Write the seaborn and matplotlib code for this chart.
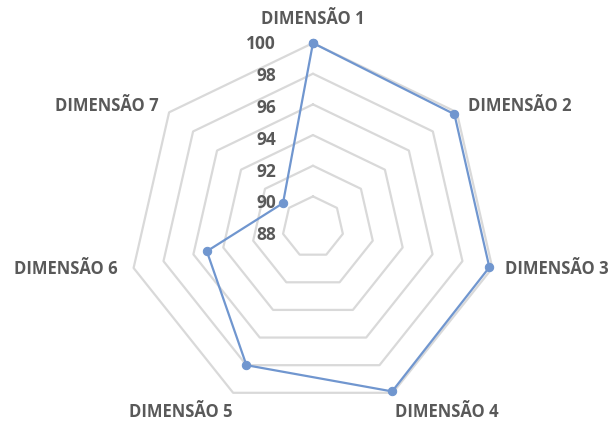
import matplotlib
matplotlib.use("Agg")
import matplotlib.pyplot as plt
import numpy as np
import pandas as pd
import seaborn as sns

dimensions = ["DIMENSÃO 1", "DIMENSÃO 2", "DIMENSÃO 3", "DIMENSÃO 4",
              "DIMENSÃO 5", "DIMENSÃO 6", "DIMENSÃO 7"]
scores = [100.0, 99.8, 99.8, 99.9, 98.0, 95.1, 90.5]
rings = [88, 90, 92, 94, 96, 98, 100]

LINE_BLUE = "#7096CF"
GRID_GRAY = "#D9D9D9"
TEXT_GRAY = "#595959"

# label offsets from each outer vertex, in pixels
label_offsets = [(0, 24, "center"), (11, 6, "left"), (13, -1, "left"),
                 (54, -19, "center"), (-52, -19, "center"),
                 (-16, -1, "right"), (-10, 6, "right")]

sns.set_theme(style="white")
plt.rcParams["font.family"] = ["Open Sans", "DejaVu Sans"]

n = len(dimensions)
theta = np.arange(n) * 2 * np.pi / n
df = pd.DataFrame({"theta": np.append(theta, 2 * np.pi),
                   "score": scores + scores[:1]})

fig = plt.figure(figsize=(6.13, 4.22), dpi=100)
ax = fig.add_axes([0.2104, 0.026, 0.6003, 0.872], projection="polar")
ax.set_theta_zero_location("N")
ax.set_theta_direction(-1)
ax.set_ylim(rings[0], rings[-1])
ax.grid(False)
ax.spines["polar"].set_visible(False)
ax.set_xticks([])
ax.set_yticks([])

# heptagon grid rings
ring_theta = np.append(theta, 2 * np.pi)
for lvl in rings[1:]:
    ax.plot(ring_theta, [lvl] * (n + 1), color=GRID_GRAY, lw=1.6,
            clip_on=False, zorder=1)

sns.lineplot(data=df, x="theta", y="score", ax=ax, sort=False,
             color=LINE_BLUE, lw=1.6, marker="o", markersize=6,
             markeredgecolor=LINE_BLUE, clip_on=False, zorder=3)
ax.set_xlabel("")
ax.set_ylabel("")

# radial value labels along the first axis
for lvl in rings:
    ax.annotate(str(lvl), xy=(0, lvl), xytext=(-37, -1 - 0.6 * (100 - lvl)),
                textcoords="offset pixels", ha="right", va="center",
                fontsize=12.5, fontweight="bold", color=TEXT_GRAY,
                annotation_clip=False)

for t, name, (dx, dy, ha) in zip(theta, dimensions, label_offsets):
    ax.annotate(name, xy=(t, rings[-1]), xytext=(dx, dy),
                textcoords="offset pixels", ha=ha, va="center",
                fontsize=12, fontweight="bold", color=TEXT_GRAY,
                annotation_clip=False)

fig.savefig("out.png", dpi=100)
